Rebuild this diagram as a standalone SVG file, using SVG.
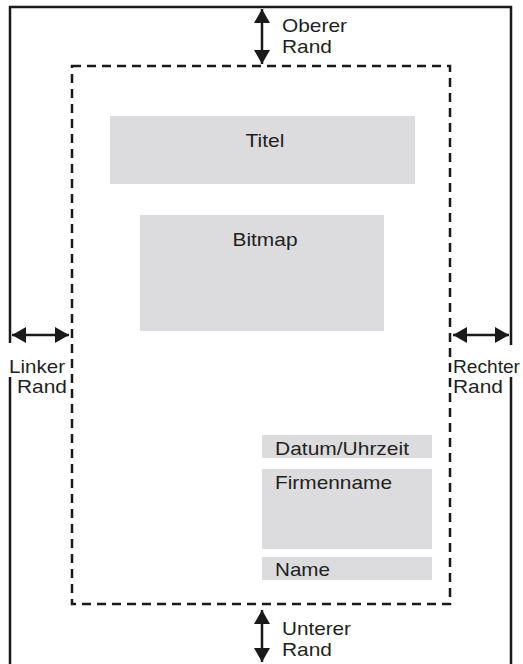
<svg xmlns="http://www.w3.org/2000/svg" width="523" height="664" viewBox="0 0 523 664">
  <defs>
    <marker id="ah" viewBox="0 0 14 16" refX="14" refY="8" markerWidth="14" markerHeight="16" markerUnits="userSpaceOnUse" orient="auto-start-reverse">
      <path d="M0,0 L14,8 L0,16 Z" fill="#1a1a1a"/>
    </marker>
  </defs>
  <style>
    .frame { fill: none; stroke: #1a1a1a; stroke-width: 2.5; }
    .dash { fill: none; stroke: #1a1a1a; stroke-width: 2.5; stroke-dasharray: 9 6; }
    .box { fill: #dcdcdf; }
    .arr { stroke: #1a1a1a; stroke-width: 2.5; fill: none; marker-start: url(#ah); marker-end: url(#ah); }
    text { font-family: "Liberation Sans", Arial, sans-serif; font-size: 19px; fill: #231f20; }
  </style>
  <rect width="523" height="664" fill="#ffffff"/>

  <g id="page-frame">
    <path class="frame" d="M10,664 L10,377 M10,343 L10,7 L511,7 L511,345 M511,377 L511,664"/>
  </g>

  <g id="print-area">
    <rect class="dash" x="72" y="66" width="378" height="538"/>
  </g>

  <g id="titel">
    <rect class="box" x="110" y="116" width="305" height="68"/>
    <text x="265" y="147" text-anchor="middle" textLength="39" lengthAdjust="spacingAndGlyphs">Titel</text>
  </g>

  <g id="bitmap">
    <rect class="box" x="140" y="215" width="244" height="116"/>
    <text x="265" y="246" text-anchor="middle" textLength="65" lengthAdjust="spacingAndGlyphs">Bitmap</text>
  </g>

  <g id="datum">
    <rect class="box" x="262" y="435" width="170" height="23"/>
    <text x="275" y="455" textLength="134" lengthAdjust="spacingAndGlyphs">Datum/Uhrzeit</text>
  </g>

  <g id="firmenname">
    <rect class="box" x="262" y="469" width="170" height="80"/>
    <text x="275" y="489" textLength="117" lengthAdjust="spacingAndGlyphs">Firmenname</text>
  </g>

  <g id="name">
    <rect class="box" x="262" y="557" width="170" height="23"/>
    <text x="275" y="576" textLength="55" lengthAdjust="spacingAndGlyphs">Name</text>
  </g>

  <g id="connectors">
    <line class="arr" x1="262" y1="9" x2="262" y2="64"/>
    <line class="arr" x1="262" y1="610" x2="262" y2="662"/>
    <line class="arr" x1="12" y1="335" x2="69" y2="335"/>
    <line class="arr" x1="453" y1="335" x2="509" y2="335"/>
  </g>

  <g id="label-oben">
    <text x="282" y="32" textLength="65" lengthAdjust="spacingAndGlyphs">Oberer</text>
    <text x="282" y="53" textLength="50" lengthAdjust="spacingAndGlyphs">Rand</text>
  </g>
  <g id="label-unten">
    <text x="282" y="635" textLength="69" lengthAdjust="spacingAndGlyphs">Unterer</text>
    <text x="282" y="656" textLength="50" lengthAdjust="spacingAndGlyphs">Rand</text>
  </g>
  <g id="label-links">
    <text x="9" y="373" textLength="56" lengthAdjust="spacingAndGlyphs">Linker</text>
    <text x="17" y="393" textLength="50" lengthAdjust="spacingAndGlyphs">Rand</text>
  </g>
  <g id="label-rechts">
    <text x="453" y="373" textLength="67" lengthAdjust="spacingAndGlyphs">Rechter</text>
    <text x="453" y="393" textLength="50" lengthAdjust="spacingAndGlyphs">Rand</text>
  </g>
</svg>
